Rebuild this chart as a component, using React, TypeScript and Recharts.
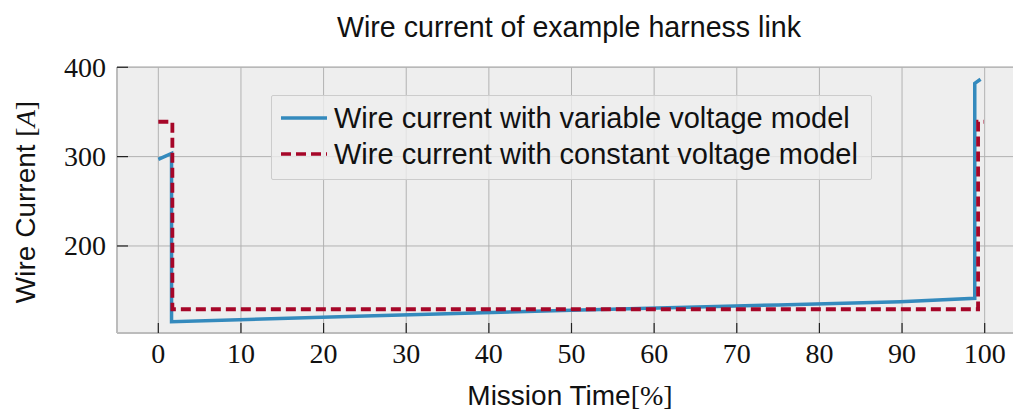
import React from 'react'
import {
  LineChart,
  Line,
  XAxis,
  YAxis,
  CartesianGrid,
  Legend,
} from 'recharts'

// mission time [%] and wire current [A]
const TIME_VARIABLE = [0, 1.6, 1.6, 25, 50, 75, 89.8, 98.8, 98.8, 99.5]
const CURRENT_VARIABLE = [297, 303.5, 115.3, 121.5, 128, 134, 137.7, 141.5, 382, 386.6]

const TIME_CONSTANT = [0, 1.7, 1.7, 99.2, 99.2, 99.9]
const CURRENT_CONSTANT = [339, 339, 129.2, 129.2, 339, 339]

const X_TICKS = [0, 10, 20, 30, 40, 50, 60, 70, 80, 90, 100]
const Y_TICKS = [200, 300, 400]

const SERIES_NAMES = [
  'Wire current with variable voltage model',
  'Wire current with constant voltage model',
]

const BLUE = '#348ABD'
const RED = '#A60628'
const SANS = '"Liberation Sans", Arial, Helvetica, sans-serif'
const SERIF = '"Liberation Serif", "Times New Roman", serif'

const PLOT_LEFT = 117
const PLOT_BOTTOM = 333

const variableData = TIME_VARIABLE.map((t, i) => ({ t, v: CURRENT_VARIABLE[i] }))
const constantData = TIME_CONSTANT.map((t, i) => ({ t, v: CURRENT_CONSTANT[i] }))

function XTick({ x, payload }: any) {
  return (
    <g>
      <line x1={x} x2={x} y1={PLOT_BOTTOM} y2={PLOT_BOTTOM - 10} stroke="#222" strokeWidth={1.2} />
      <text x={x} y={363} textAnchor="middle" fontFamily={SERIF} fontSize={28} fill="#111">
        {payload.value}
      </text>
    </g>
  )
}

function YTick({ y, payload }: any) {
  return (
    <g>
      <line x1={PLOT_LEFT} x2={PLOT_LEFT + 11} y1={y} y2={y} stroke="#222" strokeWidth={1.2} />
      <text x={106} y={y + 9.5} textAnchor="end" fontFamily={SERIF} fontSize={28} fill="#111">
        {payload.value}
      </text>
    </g>
  )
}

function LegendBox() {
  return (
    <div
      style={{
        width: 599,
        height: 79,
        border: '1px solid #cccccc',
        background: 'rgba(238,238,238,0.8)',
        borderRadius: 2,
        boxSizing: 'content-box',
        paddingTop: 4,
        fontFamily: SANS,
        fontSize: 29,
        color: '#111',
      }}
    >
      {SERIES_NAMES.map((name, i) => (
        <div key={name} style={{ display: 'flex', alignItems: 'center', height: 36 }}>
          <svg width={62} height={36} style={{ flex: 'none' }}>
            <line
              x1={9}
              x2={55}
              y1={18}
              y2={18}
              stroke={i === 0 ? BLUE : RED}
              strokeWidth={3.5}
              strokeDasharray={i === 0 ? undefined : '10 5'}
            />
          </svg>
          <span style={{ whiteSpace: 'nowrap', lineHeight: '36px' }}>{name}</span>
        </div>
      ))}
    </div>
  )
}

export default function App() {
  return (
    <div
      style={{
        position: 'absolute',
        left: 0,
        top: 0,
        width: 1013,
        height: 412,
        overflow: 'hidden',
        background: '#fff',
      }}
    >
      <LineChart width={1030} height={412} margin={{ top: 67, right: 4, bottom: 0, left: 0 }}>
        <CartesianGrid stroke="#b2b2b2" strokeWidth={1} fill="#eeeeee" />
        <XAxis
          xAxisId="top"
          orientation="top"
          type="number"
          domain={[-5, 105]}
          height={0}
          tick={false}
          tickLine={false}
          axisLine={{ stroke: '#bcbcbc', strokeWidth: 2 }}
        />
        <XAxis
          dataKey="t"
          type="number"
          domain={[-5, 105]}
          ticks={X_TICKS}
          allowDataOverflow
          height={79}
          tickLine={false}
          axisLine={{ stroke: '#bcbcbc', strokeWidth: 2 }}
          tick={<XTick />}
        />
        <YAxis
          type="number"
          domain={[102.6, 400.3]}
          ticks={Y_TICKS}
          allowDataOverflow
          width={117}
          tickLine={false}
          axisLine={{ stroke: '#bcbcbc', strokeWidth: 2 }}
          tick={<YTick />}
        />
        <Legend
          layout="vertical"
          align="center"
          verticalAlign="middle"
          wrapperStyle={{ position: 'absolute', left: 271, top: 95, width: 'auto' }}
          content={() => <LegendBox />}
        />
        <Line
          data={variableData}
          dataKey="v"
          name={SERIES_NAMES[0]}
          stroke={BLUE}
          strokeWidth={3.5}
          dot={false}
          activeDot={false}
          isAnimationActive={false}
        />
        <Line
          data={constantData}
          dataKey="v"
          name={SERIES_NAMES[1]}
          stroke={RED}
          strokeWidth={3.8}
          strokeDasharray="10 5"
          dot={false}
          activeDot={false}
          isAnimationActive={false}
        />
      </LineChart>
      <svg
        width={1013}
        height={412}
        style={{ position: 'absolute', left: 0, top: 0, pointerEvents: 'none' }}
      >
        <text x={569} y={37} textAnchor="middle" fontFamily={SANS} fontSize={28.6} fill="#111">
          Wire current of example harness link
        </text>
        <text x={570} y={405} textAnchor="middle" fontFamily={SANS} fontSize={28} fill="#111">
          Mission Time
          <tspan fontFamily={SERIF}>[%]</tspan>
        </text>
        <text
          transform="translate(35,202) rotate(-90)"
          textAnchor="middle"
          fontFamily={SANS}
          fontSize={28}
          fill="#111"
        >
          Wire Current{' '}
          <tspan fontFamily={SERIF}>[</tspan>
          <tspan fontFamily={SERIF} fontStyle="italic">A</tspan>
          <tspan fontFamily={SERIF}>]</tspan>
        </text>
      </svg>
    </div>
  )
}
